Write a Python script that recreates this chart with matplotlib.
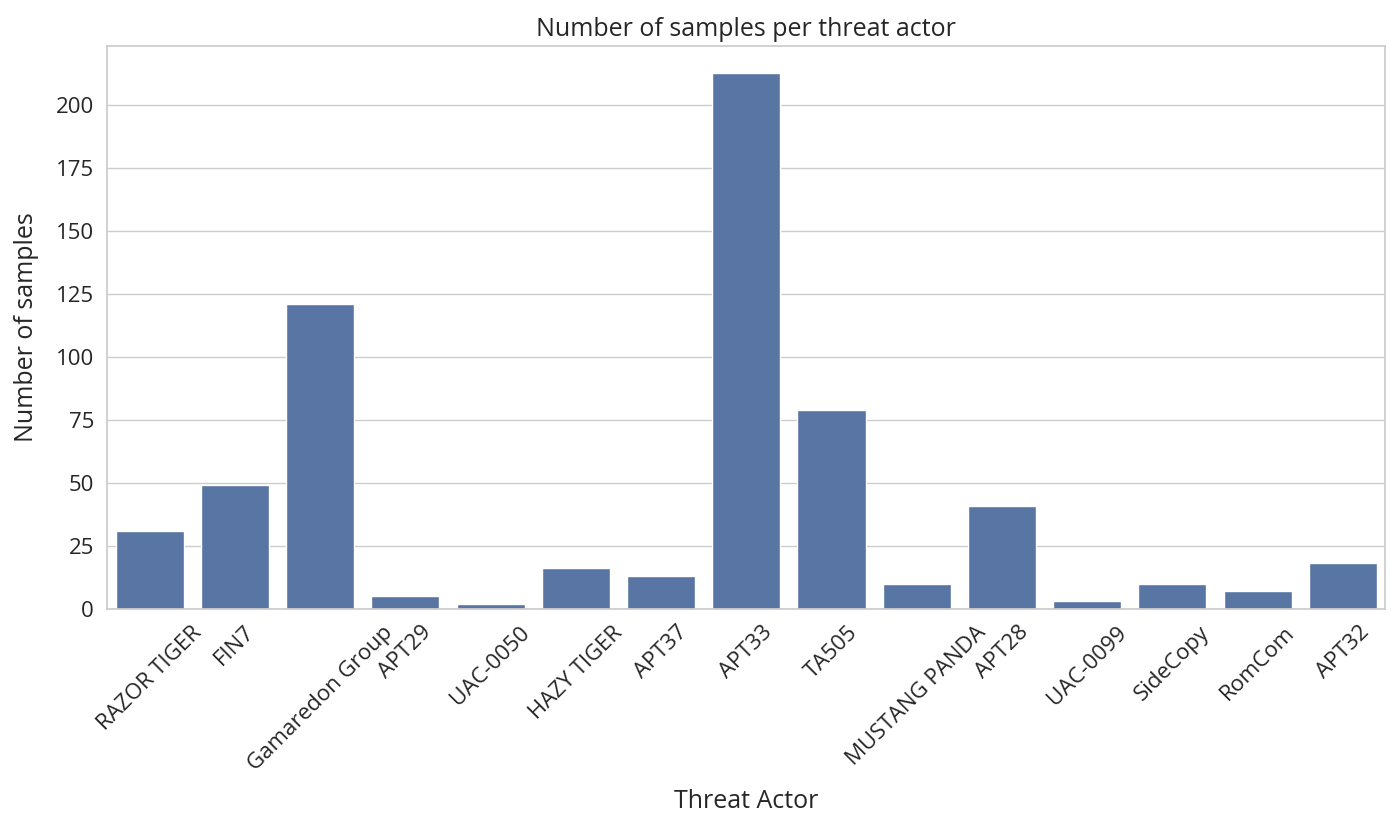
import matplotlib
matplotlib.use("Agg")
import matplotlib.pyplot as plt
import seaborn as sns
import pandas as pd

actors = ['RAZOR TIGER', 'FIN7', 'Gamaredon Group', 'APT29', 'UAC-0050',
          'HAZY TIGER', 'APT37', 'APT33', 'TA505', 'MUSTANG PANDA',
          'APT28', 'UAC-0099', 'SideCopy', 'RomCom', 'APT32']
samples = [31, 49, 121, 5, 2, 16, 13, 213, 79, 10, 41, 3, 10, 7, 18]

df = pd.DataFrame({'Threat Actor': actors, 'Number of samples': samples})

sns.set_theme(style="whitegrid")
plt.rcParams['font.family'] = ['Open Sans', 'DejaVu Sans']

fig = plt.figure(figsize=(13.91, 8.16), dpi=100)
ax = fig.add_axes([0.077, 0.254, 0.919, 0.69])
sns.barplot(data=df, x='Threat Actor', y='Number of samples', ax=ax)

ax.set_title("Number of samples per threat actor", fontsize=18, pad=7)
ax.set_xlabel("Threat Actor", fontsize=18, labelpad=10)
ax.set_ylabel("Number of samples", fontsize=18, labelpad=12)
ax.tick_params(axis='both', labelsize=16)
plt.xticks(rotation=45)

fig.savefig("out.png", dpi=100)
